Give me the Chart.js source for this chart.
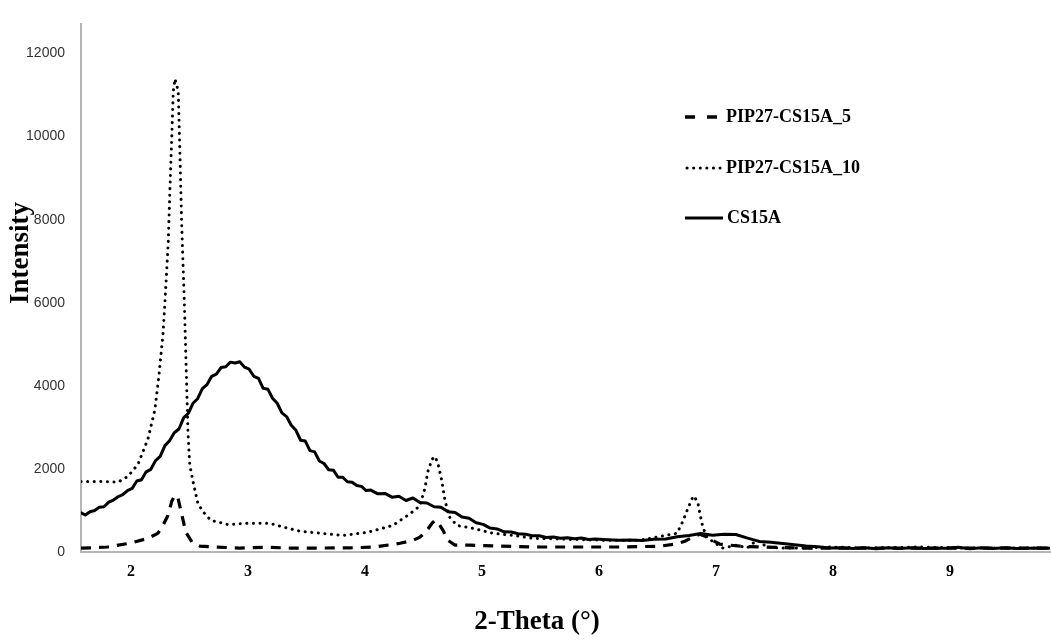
<!DOCTYPE html>
<html>
<head>
<meta charset="utf-8">
<script src="https://cdn.jsdelivr.net/npm/chart.js@4.4.0/dist/chart.umd.min.js"></script>
<style>
  html, body { margin: 0; padding: 0; background: #fff; }
  #wrap { width: 1051px; height: 641px; position: relative; }
</style>
</head>
<body>
<div id="wrap"><canvas id="mycanvas"></canvas></div>
<script>
// series names
var names = ["PIP27-CS15A_5", "PIP27-CS15A_10", "CS15A"];

// PIP27-CS15A_5 (dashed)
var theta5 = [1.573,1.66,1.80,1.99,2.145,2.23,2.274,2.316,2.35,2.376,2.402,2.436,2.47,2.521,2.59,2.718,2.93,3.145,3.36,3.615,3.87,4.085,4.30,4.41,4.47,4.53,4.573,4.598,4.624,4.667,4.709,4.77,4.90,5.15,5.50,5.84,6.18,6.52,6.65,6.735,6.82,6.863,6.906,6.966,7.034,7.205,7.376,7.72,8.15,8.57,9.0,9.43,9.855];
var int5 = [95,100,120,210,330,450,640,880,1230,1370,1300,880,470,240,140,120,95,115,95,95,100,120,210,280,355,520,690,760,710,520,280,165,165,140,120,120,120,140,190,260,380,425,380,285,190,140,120,95,95,95,95,95,95];

// PIP27-CS15A_10 (dotted)
var theta10 = [1.573,1.735,1.889,1.974,2.06,2.145,2.205,2.239,2.274,2.291,2.319,2.333,2.348,2.362,2.376,2.404,2.419,2.433,2.447,2.456,2.487,2.502,2.53,2.573,2.63,2.684,2.761,2.829,2.991,3.188,3.316,3.444,3.812,4.017,4.239,4.385,4.47,4.513,4.538,4.573,4.598,4.624,4.658,4.684,4.726,4.786,4.923,5.094,5.265,5.436,5.667,6.009,6.35,6.667,6.709,6.752,6.795,6.812,6.846,6.863,6.889,6.923,6.991,7.06,7.179,7.265,7.35,7.436,7.547,7.718,7.974,8.316,8.744,9.085,9.427,9.855];
var int10 = [1700,1700,1680,1820,2110,2720,3430,4240,5250,6040,7460,8730,9920,11100,11390,11100,9520,7930,6750,6040,2890,2110,1700,1160,920,760,710,660,690,690,590,500,400,470,640,920,1110,1540,1940,2230,2300,2130,1700,1230,830,640,570,450,400,330,310,285,285,450,690,990,1280,1350,1180,920,590,355,215,95,165,95,285,120,95,95,120,95,120,95,95,95];

// CS15A (solid)
var thetaCS = [1.57,1.61,1.65,1.69,1.73,1.77,1.81,1.85,1.89,1.93,1.97,2.01,2.05,2.09,2.13,2.17,2.21,2.25,2.29,2.33,2.37,2.41,2.45,2.49,2.53,2.57,2.61,2.65,2.69,2.73,2.77,2.81,2.85,2.89,2.93,2.97,3.01,3.05,3.09,3.13,3.17,3.21,3.25,3.29,3.33,3.37,3.41,3.45,3.49,3.53,3.57,3.61,3.65,3.69,3.73,3.77,3.81,3.85,3.89,3.93,3.97,4.01,4.05,
  4.11,4.17,4.23,4.29,4.35,4.41,4.47,4.53,4.59,4.65,4.71,4.77,4.83,4.89,4.95,5.01,5.07,5.13,5.19,5.25,5.31,5.37,5.43,5.49,5.55,5.61,5.67,5.73,5.79,5.85,5.91,5.97,
  6.07,6.17,6.27,6.37,6.47,6.57,6.67,6.77,6.87,6.97,7.07,7.17,7.27,7.37,7.47,7.57,7.67,7.77,7.87,7.97,8.07,8.17,8.27,8.37,8.47,8.57,8.67,8.77,8.87,8.97,9.07,9.17,9.27,9.37,9.47,9.57,9.67,9.77,9.855];
var intCS = [950,890,970,1000,1080,1090,1200,1250,1330,1380,1480,1530,1710,1740,1930,1990,2200,2300,2560,2680,2870,2960,3230,3340,3580,3690,3930,4030,4230,4280,4440,4460,4570,4550,4580,4450,4400,4230,4180,3940,3920,3700,3580,3350,3260,3050,2930,2690,2670,2440,2410,2190,2130,1980,1970,1800,1800,1690,1680,1600,1580,1480,1490,
  1400,1410,1320,1340,1240,1300,1190,1180,1090,1080,970,950,840,815,705,665,575,555,485,480,440,430,390,390,350,360,330,345,320,335,300,310,
  295,280,290,275,305,315,365,395,445,405,425,420,335,255,235,205,175,145,125,95,100,85,105,80,100,85,105,85,90,90,115,80,100,85,105,85,90,95,90];

// tick labels
var xTicks = [2, 3, 4, 5, 6, 7, 8, 9];
var yTicks = [0, 2000, 4000, 6000, 8000, 10000, 12000];

function pts(xs, ys) {
  var out = [];
  for (var i in xs) {
    out.push({ x: xs[i], y: ys[i] });
  }
  return out;
}

// draws axis titles and the legend box inside the plot
var extras = {
  id: "extras",
  afterDraw: function(chart) {
    var c = chart.ctx;
    c.save();
    c.fillStyle = "#000";
    c.font = "bold 27px 'Liberation Serif'";
    c.textAlign = "center";
    c.textBaseline = "middle";
    c.fillText("2-Theta (°)", 537, 622);
    c.translate(21, 253);
    c.rotate(-Math.PI / 2);
    c.fillText("Intensity", 0, 0);
    c.restore();

    c.save();
    c.strokeStyle = "#000";
    // dashed
    c.lineWidth = 3.5;
    c.setLineDash([10, 12]);
    c.beginPath(); c.moveTo(685, 117); c.lineTo(721, 117); c.stroke();
    // dotted
    c.lineWidth = 3;
    c.lineCap = "round";
    c.setLineDash([0.1, 6.5]);
    c.beginPath(); c.moveTo(687, 168); c.lineTo(721, 168); c.stroke();
    // solid
    c.lineCap = "butt";
    c.lineWidth = 3;
    c.setLineDash([]);
    c.beginPath(); c.moveTo(685, 218); c.lineTo(723, 218); c.stroke();

    c.fillStyle = "#000";
    c.font = "bold 18px 'Liberation Serif'";
    c.textAlign = "left";
    c.textBaseline = "middle";
    c.fillText(names[0], 726, 117);
    c.fillText(names[1], 726, 168);
    c.fillText(names[2], 727, 218);
    c.restore();
  }
};

var chartdata = {
  datasets: [
    {
      label: names[0],
      data: pts(theta5, int5),
      borderColor: "#000",
      borderWidth: 3.2,
      borderDash: [10, 8],
      pointRadius: 0,
      tension: 0,
      fill: false
    },
    {
      label: names[1],
      data: pts(theta10, int10),
      borderColor: "#000",
      borderWidth: 3,
      borderDash: [0.1, 6.5],
      borderCapStyle: "round",
      borderJoinStyle: "round",
      pointRadius: 0,
      tension: 0,
      fill: false
    },
    {
      label: names[2],
      data: pts(thetaCS, intCS),
      borderColor: "#000",
      borderWidth: 3,
      borderJoinStyle: "round",
      pointRadius: 0,
      tension: 0,
      fill: false
    }
  ]
};

var ctx = document.getElementById("mycanvas");

var LineGraph = new Chart(ctx, {
  type: "line",
  data: chartdata,
  options: {
    responsive: true,
    maintainAspectRatio: false,
    animation: false,
    devicePixelRatio: 1,
    layout: { padding: { top: 16, right: 1, left: 0, bottom: 0 } },
    plugins: {
      legend: { display: false },
      tooltip: { enabled: false }
    },
    scales: {
      x: {
        type: "linear",
        min: 1.573,
        max: 9.855,
        afterBuildTicks: function(axis) {
          axis.ticks = xTicks.map(function(v) { return { value: v }; });
        },
        afterFit: function(axis) { axis.height = 89; },
        grid: { display: false, drawTicks: false },
        border: { display: true, color: "#b5b5b5", width: 2 },
        ticks: {
          padding: 10,
          color: "#000",
          font: { family: "'Liberation Serif'", size: 16, weight: "bold" },
          callback: function(v) { return String(v); }
        }
      },
      y: {
        min: 0,
        max: 12700,
        afterBuildTicks: function(axis) {
          axis.ticks = yTicks.map(function(v) { return { value: v }; });
        },
        afterFit: function(axis) { axis.width = 81; },
        grid: { display: false, drawTicks: false },
        border: { display: true, color: "#b5b5b5", width: 2 },
        ticks: {
          padding: 16,
          color: "#333",
          font: { family: "'Liberation Sans'", size: 14 },
          callback: function(v) { return String(v); }
        }
      }
    }
  },
  plugins: [extras]
});
</script>
</body>
</html>
